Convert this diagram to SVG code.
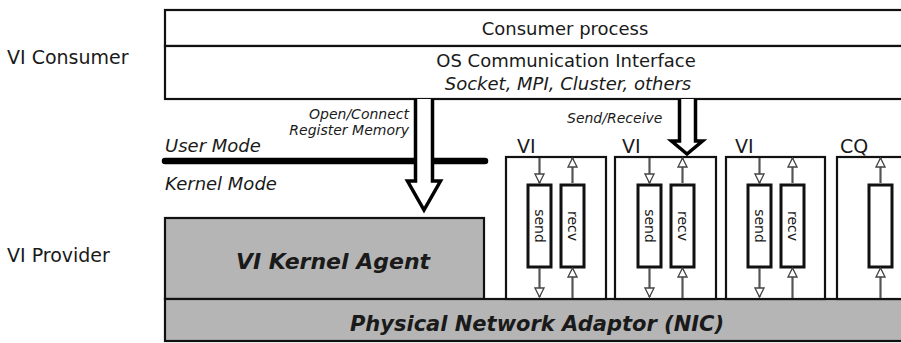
<svg xmlns="http://www.w3.org/2000/svg" width="901" height="343" viewBox="0 0 901 343">
<style>
text{font-family:"DejaVu Sans",Verdana,sans-serif;fill:#1a1a1a}
.lbl{font-size:19px}
.ctr{font-size:18px;text-anchor:middle}
.it{font-style:italic}
.sm{font-size:14px;font-style:italic}
.box{fill:#fff;stroke:#111;stroke-width:2.2}
.gray{fill:#b5b5b5;stroke:#111;stroke-width:2.2}
.q{fill:#fff;stroke:#111;stroke-width:3}
.qt{font-size:14px;text-anchor:middle;dominant-baseline:central}
.big{fill:#fff;stroke:#000;stroke-width:3.5;stroke-linejoin:miter}
.ln{stroke:#555;stroke-width:2.2;fill:none}
.hd{fill:#fff;stroke:#444;stroke-width:1.3}
.bi{font-weight:bold;font-style:italic;text-anchor:middle}
</style>
<defs>
<marker id="ah" viewBox="0 0 11 11" refX="10" refY="5.5" markerWidth="11" markerHeight="11" markerUnits="userSpaceOnUse" orient="auto">
<path d="M1,1 L10,5.5 L1,10 Z" class="hd"/>
</marker>
</defs>
<text class="lbl" x="7" y="64">VI Consumer</text>
<text class="lbl" x="7" y="262">VI Provider</text>
<g id="consumer">
<rect class="box" x="165" y="10" width="745" height="36"/>
<text class="ctr" x="565" y="35">Consumer process</text>
</g>
<g id="os-interface">
<rect class="box" x="165" y="46" width="745" height="53"/>
<text class="ctr" x="566" y="67">OS Communication Interface</text>
<text class="ctr it" x="568" y="90">Socket, MPI, Cluster, others</text>
</g>
<g id="mode-line">
<line x1="165" y1="161" x2="485" y2="161" stroke="#000" stroke-width="6.5" stroke-linecap="round"/>
<text class="lbl it" x="165" y="152" style="font-size:18px">User Mode</text>
<text class="lbl it" x="165" y="190" style="font-size:18px">Kernel Mode</text>
</g>
<g id="kernel-agent">
<rect class="gray" x="165" y="218" width="319" height="81"/>
<text class="bi" x="333" y="269" style="font-size:22px">VI Kernel Agent</text>
</g>
<g id="nic">
<rect class="gray" x="165" y="299" width="745" height="42"/>
<text class="bi" x="537" y="331" style="font-size:21px">Physical Network Adaptor (NIC)</text>
</g>
<g id="vi1">
<rect class="box" x="506" y="157" width="100" height="142"/>
<text class="lbl" x="517" y="153">VI</text>
<rect class="q" x="528" y="185" width="23" height="82"/>
<rect class="q" x="561" y="185" width="23" height="82"/>
<text class="qt" transform="translate(539.5,226) rotate(90)">send</text>
<text class="qt" transform="translate(572.5,226) rotate(90)">recv</text>
</g>
<g id="vi2">
<rect class="box" x="615" y="157" width="101" height="142"/>
<text class="lbl" x="622" y="153">VI</text>
<rect class="q" x="638" y="185" width="23" height="82"/>
<rect class="q" x="671" y="185" width="23" height="82"/>
<text class="qt" transform="translate(649.5,226) rotate(90)">send</text>
<text class="qt" transform="translate(682.5,226) rotate(90)">recv</text>
</g>
<g id="vi3">
<rect class="box" x="726" y="157" width="99" height="142"/>
<text class="lbl" x="735" y="153">VI</text>
<rect class="q" x="748" y="185" width="23" height="82"/>
<rect class="q" x="781" y="185" width="23" height="82"/>
<text class="qt" transform="translate(759.5,226) rotate(90)">send</text>
<text class="qt" transform="translate(792.5,226) rotate(90)">recv</text>
</g>
<g id="cq">
<rect class="box" x="837" y="157" width="80" height="142"/>
<text class="lbl" x="840" y="153">CQ</text>
<rect class="q" x="869" y="185" width="23" height="82"/>
</g>
<g id="connectors">
<path class="big" d="M415.5,99 V181 H407.5 L424,210 L440.5,181 H432.5 V99"/>
<path class="big" d="M679.5,99 V141 H671.5 L687,154 L702.5,141 H695.5 V99"/>
<text class="sm" x="409" y="119" text-anchor="end">Open/Connect</text>
<text class="sm" x="409" y="135" text-anchor="end">Register Memory</text>
<text class="sm" x="567" y="123">Send/Receive</text>
<line class="ln" x1="539.5" y1="158" x2="539.5" y2="183" marker-end="url(#ah)"/>
<line class="ln" x1="539.5" y1="268" x2="539.5" y2="297" marker-end="url(#ah)"/>
<line class="ln" x1="572.5" y1="298" x2="572.5" y2="268" marker-end="url(#ah)"/>
<line class="ln" x1="572.5" y1="183" x2="572.5" y2="158" marker-end="url(#ah)"/>
<line class="ln" x1="649.5" y1="158" x2="649.5" y2="183" marker-end="url(#ah)"/>
<line class="ln" x1="649.5" y1="268" x2="649.5" y2="297" marker-end="url(#ah)"/>
<line class="ln" x1="682.5" y1="298" x2="682.5" y2="268" marker-end="url(#ah)"/>
<line class="ln" x1="682.5" y1="183" x2="682.5" y2="158" marker-end="url(#ah)"/>
<line class="ln" x1="759.5" y1="158" x2="759.5" y2="183" marker-end="url(#ah)"/>
<line class="ln" x1="759.5" y1="268" x2="759.5" y2="297" marker-end="url(#ah)"/>
<line class="ln" x1="792.5" y1="298" x2="792.5" y2="268" marker-end="url(#ah)"/>
<line class="ln" x1="792.5" y1="183" x2="792.5" y2="158" marker-end="url(#ah)"/>
<line class="ln" x1="880.5" y1="298" x2="880.5" y2="268" marker-end="url(#ah)"/>
<line class="ln" x1="880.5" y1="183" x2="880.5" y2="158" marker-end="url(#ah)"/>
</g>
</svg>
